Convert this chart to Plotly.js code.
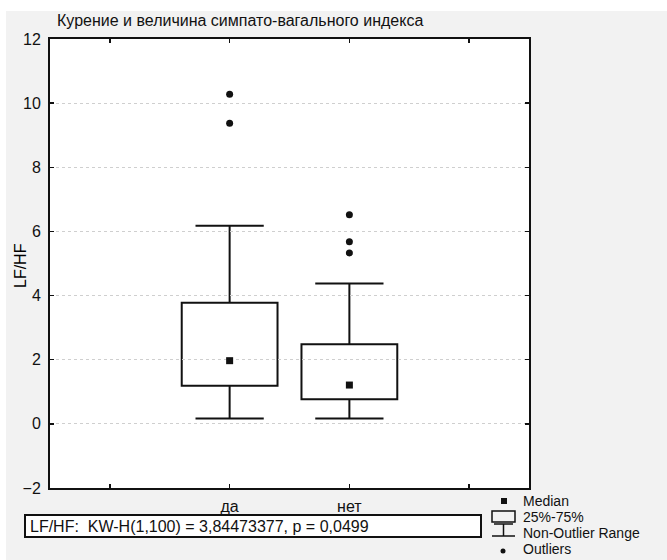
<!DOCTYPE html>
<html><head><meta charset="utf-8">
<script src="https://cdn.plot.ly/plotly-3.0.1.min.js"></script>
<style>
html,body{margin:0;padding:0;background:#fff;width:667px;height:560px;overflow:hidden}
#chart{position:absolute;left:6px;top:11px;width:661px;height:549px}
</style>
</head><body><div id="chart"></div>
<script>
// ---- data ----
const categories = ['да', 'нет'];
const q1 = [1.19, 0.77];
const medians = [1.97, 1.21];
const q3 = [3.78, 2.48];
const lowerWhisker = [0.17, 0.17];
const upperWhisker = [6.18, 4.38];
const outliersDa = [10.28, 9.37];
const outliersNet = [6.52, 5.68, 5.33];
const yTicks = [-2, 0, 2, 4, 6, 8, 10, 12];
const titleText = 'Курение и величина симпато-вагального индекса';
const yTitle = 'LF/HF';
const statText = 'LF/HF:  KW-H(1,100) = 3,84473377, p = 0,0499';
const legendLabels = ['Median', '25%-75%', 'Non-Outlier Range', 'Outliers'];

// ---- layout helpers (page px -> paper coords) ----
const PL = 50, PR = 529, PT = 39, PB = 488;
const px = X => (X - PL) / (PR - PL);
const py = Y => (PB - Y) / (PB - PT);
const ink = '#111';

const xs = categories.map((c, i) => i + 2);
const outliers = [outliersDa, outliersNet];
const boxHalf = 0.4, capHalf = 0.285;

const shapes = [];
xs.forEach((x, i) => {
  shapes.push({type:'line', xref:'x', yref:'y', layer:'below', x0:x, x1:x, y0:q3[i], y1:upperWhisker[i], line:{color:ink, width:2}});
  shapes.push({type:'line', xref:'x', yref:'y', layer:'below', x0:x-capHalf, x1:x+capHalf, y0:upperWhisker[i], y1:upperWhisker[i], line:{color:ink, width:2}});
  shapes.push({type:'line', xref:'x', yref:'y', layer:'below', x0:x, x1:x, y0:lowerWhisker[i], y1:q1[i], line:{color:ink, width:2}});
  shapes.push({type:'line', xref:'x', yref:'y', layer:'below', x0:x-capHalf, x1:x+capHalf, y0:lowerWhisker[i], y1:lowerWhisker[i], line:{color:ink, width:2}});
  shapes.push({type:'rect', xref:'x', yref:'y', layer:'below', x0:x-boxHalf, x1:x+boxHalf, y0:q1[i], y1:q3[i], fillcolor:'#fff', line:{color:ink, width:2}});
});

// stat box
shapes.push({type:'rect', xref:'paper', yref:'paper', x0:px(25), x1:px(481), y0:py(537), y1:py(515), fillcolor:'#fff', line:{color:ink, width:2}});
// legend icons
const LY = [501, 517, 533, 549];
shapes.push({type:'rect', xref:'paper', yref:'paper', x0:px(501), x1:px(507), y0:py(LY[0]+3), y1:py(LY[0]-3), fillcolor:ink, line:{width:0}});
shapes.push({type:'rect', xref:'paper', yref:'paper', x0:px(492), x1:px(515), y0:py(LY[1]+5), y1:py(LY[1]-6), fillcolor:'rgba(0,0,0,0)', line:{color:ink, width:1.5}});
shapes.push({type:'line', xref:'paper', yref:'paper', x0:px(494), x1:px(513), y0:py(LY[1]+7), y1:py(LY[1]+7), line:{color:ink, width:1.5}});
shapes.push({type:'line', xref:'paper', yref:'paper', x0:px(503.5), x1:px(503.5), y0:py(LY[1]+7), y1:py(LY[2]+3), line:{color:ink, width:1.5}});
shapes.push({type:'line', xref:'paper', yref:'paper', x0:px(492), x1:px(515), y0:py(LY[2]+3), y1:py(LY[2]+3), line:{color:ink, width:1.5}});
shapes.push({type:'circle', xref:'paper', yref:'paper', x0:px(500.5), x1:px(505.5), y0:py(LY[3]+4.5), y1:py(LY[3]-0.5), fillcolor:ink, line:{width:0}});

const annotations = [
  {text:yTitle, xref:'paper', yref:'paper', x:px(20), y:py(266), textangle:-90, xanchor:'center', yanchor:'middle', showarrow:false, font:{size:16, color:'#000'}},
  {text:statText, xref:'paper', yref:'paper', x:px(28), y:py(526), xanchor:'left', yanchor:'middle', showarrow:false, font:{size:16, color:ink}}
];
legendLabels.forEach((t, i) => annotations.push({text:t, xref:'paper', yref:'paper', x:px(521), y:py(LY[i]), xanchor:'left', yanchor:'middle', showarrow:false, font:{size:14, color:ink}}));

const traces = [
  {type:'scatter', mode:'markers', x:xs, y:medians, marker:{symbol:'square', size:7, color:ink}, hoverinfo:'y'},
  {type:'scatter', mode:'markers',
   x:outliers.flatMap((arr, i) => arr.map(() => xs[i])),
   y:outliers.flat(),
   marker:{symbol:'circle', size:7, color:ink}, hoverinfo:'y'}
];

const layout = {
  width:661, height:549,
  margin:{l:PL-6, r:661-(PR-6), t:PT-11, b:549-(PB-11), pad:0},
  paper_bgcolor:'#f2f2f2', plot_bgcolor:'#fff',
  showlegend:false,
  font:{family:'Liberation Sans, Arial, sans-serif', color:ink},
  title:{text:titleText, font:{size:16, color:ink}, xref:'paper', x:px(57), xanchor:'left', yref:'container', y:1-(20.5-11)/549, yanchor:'middle'},
  xaxis:{range:[0.5, 4.5], tickvals:[1,2,3,4], ticktext:['', ...categories, ''],
    ticks:'inside', ticklen:4, tickwidth:1.5, tickcolor:ink,
    showline:true, linecolor:ink, linewidth:2, mirror:'ticks',
    showgrid:false, zeroline:false, tickfont:{size:16, color:ink}, ticklabelstandoff:3},
  yaxis:{range:[-2, 12], tickvals:yTicks, ticks:'inside', ticklen:4, tickwidth:1.5, tickcolor:ink,
    showline:true, linecolor:ink, linewidth:2, mirror:'ticks',
    showgrid:true, gridcolor:'#cfcfcf', griddash:'dot', gridwidth:1, zeroline:false,
    tickfont:{size:16, color:ink}, ticklabelstandoff:4},
  shapes:shapes, annotations:annotations
};

Plotly.newPlot('chart', traces, layout, {displayModeBar:false, staticPlot:true});
</script>
</body></html>
